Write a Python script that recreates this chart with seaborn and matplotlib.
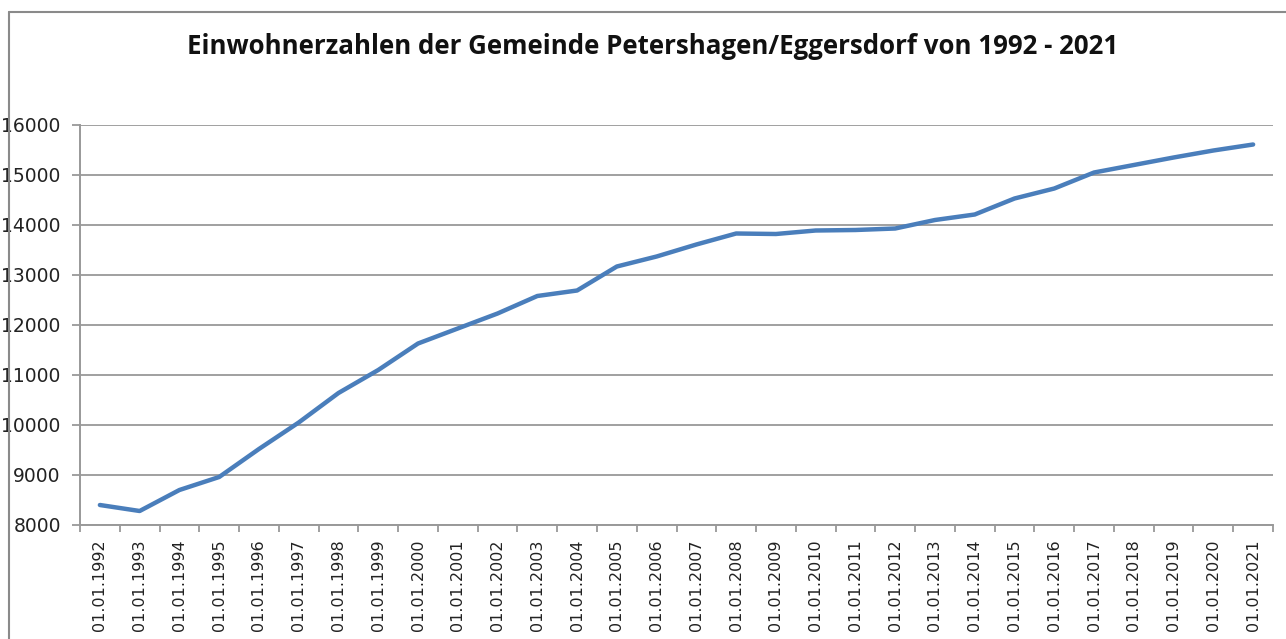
import matplotlib
matplotlib.use("Agg")
import matplotlib.pyplot as plt
import seaborn as sns
import pandas as pd
from matplotlib.lines import Line2D
from matplotlib.ticker import FixedLocator

years = list(range(1992, 2022))
labels = [f"01.01.{y}" for y in years]
einwohner = [8400, 8280, 8700, 8960, 9520, 10050, 10640, 11100, 11630, 11930,
             12230, 12580, 12690, 13170, 13370, 13610, 13830, 13820, 13890, 13900,
             13930, 14100, 14210, 14530, 14730, 15050, 15200, 15350, 15490, 15610]
yticks = list(range(8000, 16001, 1000))
title = "Einwohnerzahlen der Gemeinde Petershagen/Eggersdorf von 1992 - 2021"

sns.set_theme(style="white")
plt.rcParams['font.family'] = ['DejaVu Sans']

W, H = 1286, 639
fig = plt.figure(figsize=(W / 100, H / 100), dpi=100)
ax = fig.add_axes([80 / W, 1 - 525 / H, (1273 - 80) / W, (525 - 125) / H])

df = pd.DataFrame({"Datum": labels, "Einwohner": einwohner})
sns.lineplot(data=df, x="Datum", y="Einwohner", ax=ax, color="#4a7ebb",
             linewidth=3.2, sort=False)

ax.set_xlim(-0.5, len(labels) - 0.5)
ax.set_ylim(8000, 16000)
ax.set_yticks(yticks)
ax.set_yticklabels([str(v) for v in yticks], fontsize=13.5, color="#222222")
ax.set_xticks(range(len(labels)))
ax.set_xticklabels(labels, rotation=90, fontsize=11.5, color="#222222")
ax.xaxis.set_minor_locator(FixedLocator([i - 0.5 for i in range(len(labels) + 1)]))
ax.tick_params(axis="x", which="major", length=0, pad=10.5)
ax.tick_params(axis="x", which="minor", length=5, width=1.3, color="#999999", direction="out", bottom=True)
ax.tick_params(axis="y", which="major", length=5.8, width=1.3, color="#999999", direction="out", left=True, pad=8)
ax.set_xlabel("")
ax.set_ylabel("")

ax.grid(axis="y", color="#a0a0a0", linewidth=1.4)
ax.set_axisbelow(True)
for s in ["top", "right"]:
    ax.spines[s].set_visible(False)
for s in ["left", "bottom"]:
    ax.spines[s].set_color("#999999")
    ax.spines[s].set_linewidth(1.4)

fig.text(653 / W, 1 - 47 / H, title, ha="center", va="center", fontsize=18.6,
         fontweight="bold", family=["Open Sans", "DejaVu Sans"], color="#111111")

# Chart area frame (left and top edges visible)
fig.add_artist(Line2D([9 / W, 9 / W], [0, 1 - 12 / H], transform=fig.transFigure,
                      color="#8a8a8a", linewidth=1.5))
fig.add_artist(Line2D([9 / W, 1], [1 - 12 / H, 1 - 12 / H], transform=fig.transFigure,
                      color="#8a8a8a", linewidth=1.5))

fig.savefig("out.png", dpi=100)
